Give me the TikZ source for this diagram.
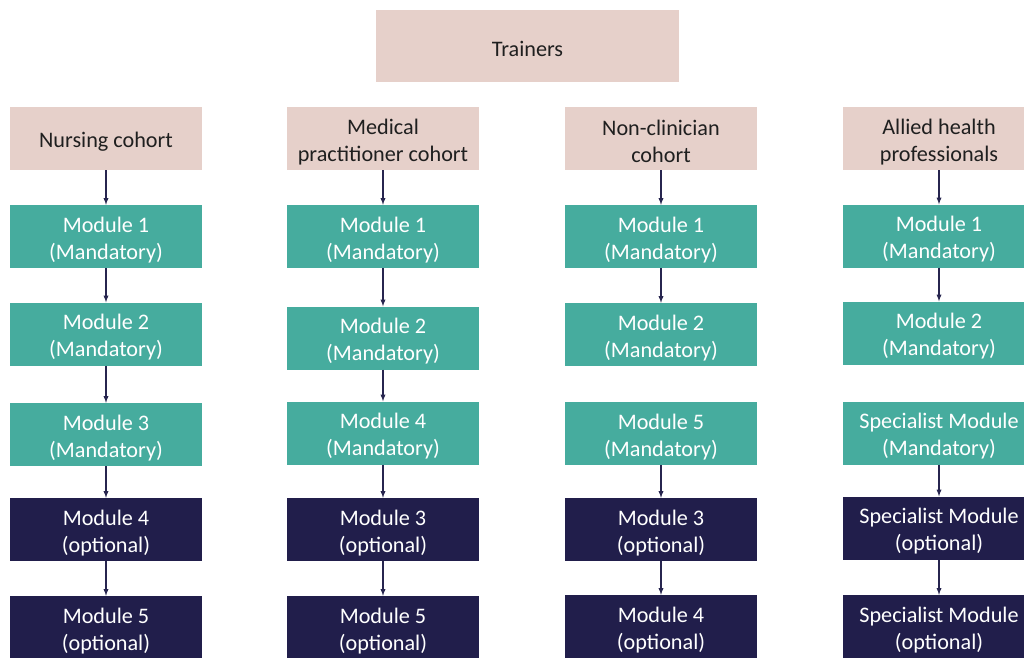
\documentclass[tikz,border=0pt]{standalone}
\usepackage{fontspec}
\setmainfont{Carlito}
\definecolor{cohortpink}{HTML}{E6D0CA}
\definecolor{mandteal}{HTML}{46AC9E}
\definecolor{optnavy}{HTML}{211E4B}
\definecolor{arrownavy}{HTML}{27254F}
\begin{document}
\begin{tikzpicture}[x=1pt, y=-1pt, >=latex]
    \tikzset{
        box/.style={rectangle, minimum width=192pt, minimum height=63pt, inner sep=0pt, align=center,
            font=\fontsize{22.2}{27}\selectfont},
        oneline/.style={execute at begin node={\rule{0pt}{22pt}}},
        twoline/.style={execute at begin node={\rule{0pt}{49pt}}},
        cohort/.style={box, fill=cohortpink, text=black!88},
        mandatory/.style={box, twoline, fill=mandteal, text=white},
        optional/.style={box, twoline, fill=optnavy, text=white},
        flow/.style={->, draw=arrownavy, line width=1.3pt}
    }
    \clip (0,0) rectangle (1024,657);
    \fill[white] (0,0) rectangle (1024,657);
    \node[cohort, oneline, minimum width=303pt, minimum height=72pt] (trainers) at (527.5,46) {Trainers};

    % Nursing cohort
    \node[cohort, oneline] (nur) at (106,138.5) {Nursing cohort};
    \node[mandatory] (nur1) at (106,236.5) {Module 1\\(Mandatory)};
    \node[mandatory] (nur2) at (106,334)   {Module 2\\(Mandatory)};
    \node[mandatory] (nur3) at (106,434.5) {Module 3\\(Mandatory)};
    \node[optional]  (nur4) at (106,529.5) {Module 4\\(optional)};
    \node[optional]  (nur5) at (106,627.5) {Module 5\\(optional)};
    \draw[flow] (nur) -- (nur1);
    \draw[flow] (nur1) -- (nur2);
    \draw[flow] (nur2) -- (nur3);
    \draw[flow] (nur3) -- (nur4);
    \draw[flow] (nur4) -- (nur5);

    % Medical practitioner cohort
    \node[cohort, twoline] (med) at (383,138.5) {Medical\\practitioner cohort};
    \node[mandatory] (med1) at (383,236.5) {Module 1\\(Mandatory)};
    \node[mandatory] (med2) at (383,338)   {Module 2\\(Mandatory)};
    \node[mandatory] (med4) at (383,433)   {Module 4\\(Mandatory)};
    \node[optional]  (med3) at (383,529.5) {Module 3\\(optional)};
    \node[optional]  (med5) at (383,627.5) {Module 5\\(optional)};
    \draw[flow] (med) -- (med1);
    \draw[flow] (med1) -- (med2);
    \draw[flow] (med2) -- (med4);
    \draw[flow] (med4) -- (med3);
    \draw[flow] (med3) -- (med5);

    % Non-clinician cohort
    \node[cohort, twoline] (non) at (661,138.5) {Non-clinician\\cohort};
    \node[mandatory] (non1) at (661,236.5) {Module 1\\(Mandatory)};
    \node[mandatory] (non2) at (661,334.5) {Module 2\\(Mandatory)};
    \node[mandatory] (non5) at (661,433.5) {Module 5\\(Mandatory)};
    \node[optional]  (non3) at (661,529.5) {Module 3\\(optional)};
    \node[optional]  (non4) at (661,626.5) {Module 4\\(optional)};
    \draw[flow] (non) -- (non1);
    \draw[flow] (non1) -- (non2);
    \draw[flow] (non5) -- (non3);
    \draw[flow] (non3) -- (non4);

    % Allied health professionals
    \node[cohort, twoline] (ahp) at (939,138.5) {Allied health\\professionals};
    \node[mandatory] (ahp1)  at (939,236)   {Module 1\\(Mandatory)};
    \node[mandatory] (ahp2)  at (939,333)   {Module 2\\(Mandatory)};
    \node[mandatory] (ahps)  at (939,433)   {Specialist Module\\(Mandatory)};
    \node[optional]  (ahpo)  at (939,528)   {Specialist Module\\(optional)};
    \node[optional]  (ahpo2) at (939,626.5) {Specialist Module\\(optional)};
    \draw[flow] (ahp) -- (ahp1);
    \draw[flow] (ahp1) -- (ahp2);
    \draw[flow] (ahpo) -- (ahpo2);
    \draw[flow] (ahps) -- (ahpo);
\end{tikzpicture}
\end{document}
